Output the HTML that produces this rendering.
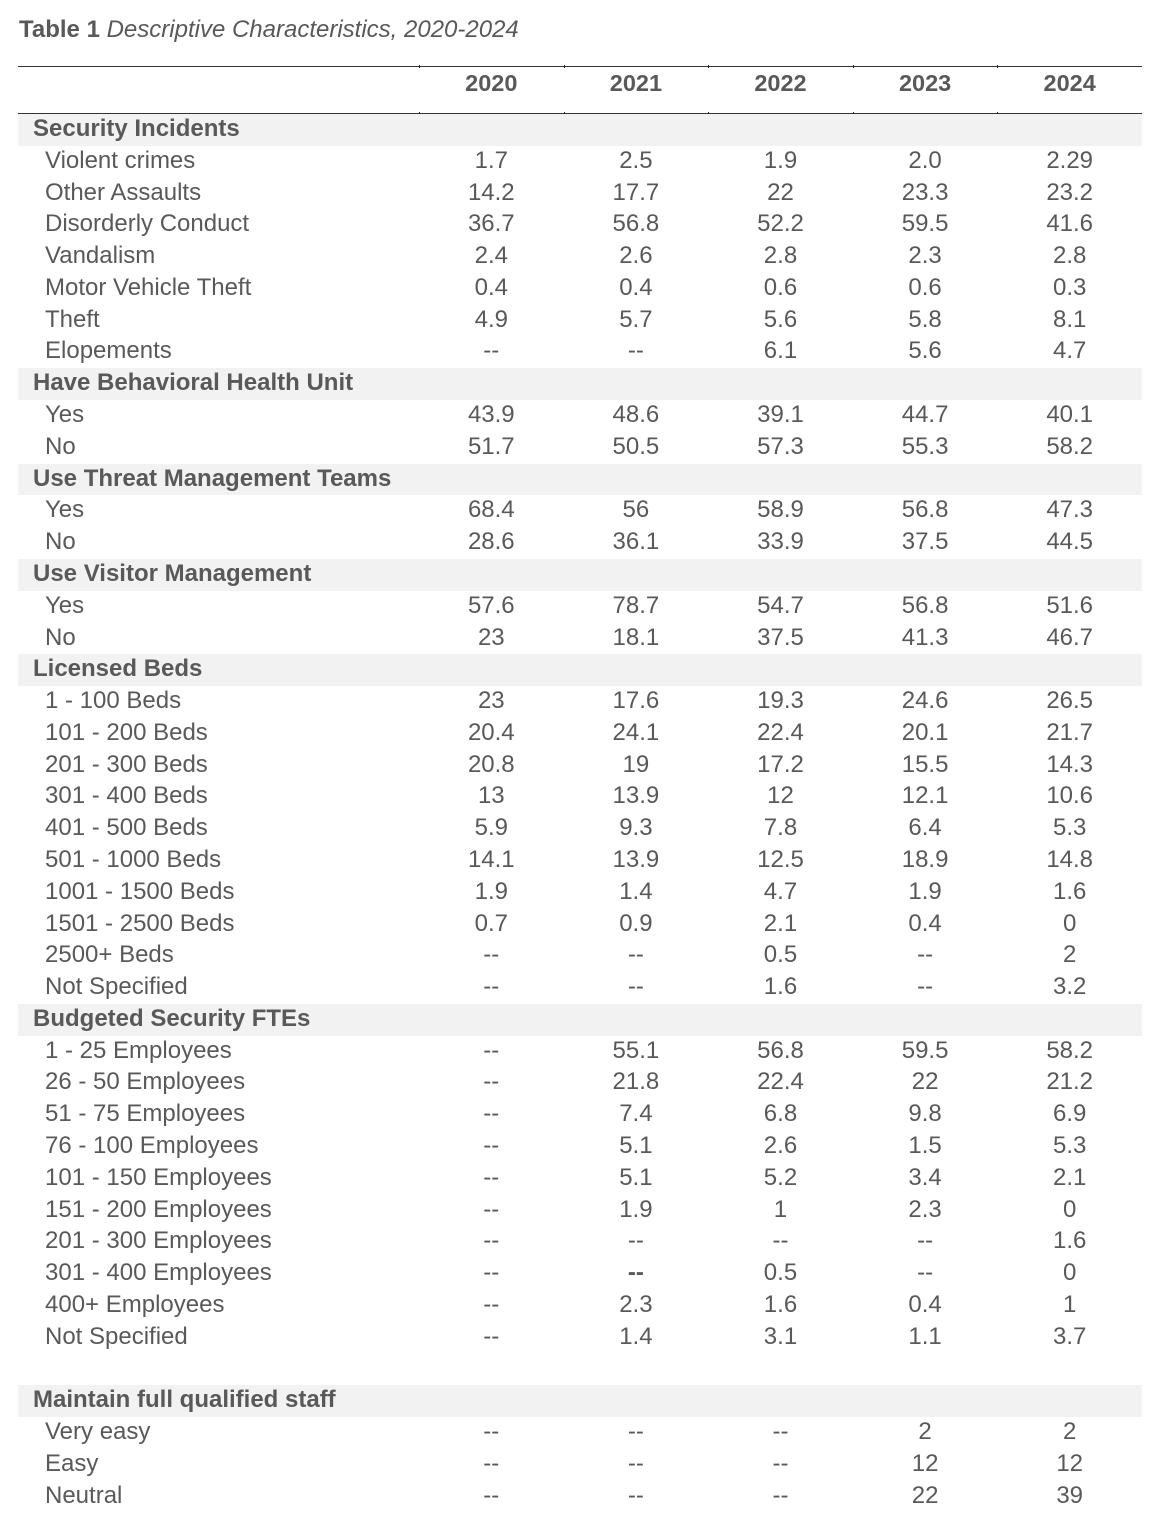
<!DOCTYPE html>
<html>
<head>
<meta charset="utf-8">
<style>
  html, body { margin:0; padding:0; background:#fff; }
  body { width:1159px; height:1536px; position:relative; overflow:hidden;
         font-family:"Liberation Sans", Arial, sans-serif; color:#595959; }
  .title { position:absolute; left:19px; top:18px; font-size:24px; line-height:24px; white-space:nowrap; }
  .title b { font-weight:bold; }
  .title i { font-style:italic; }
  .rule { position:absolute; left:18px; width:1124px; height:1.5px; background:#333; }
  .tick { position:absolute; width:1px; height:3px; background:#222; }
  .hdr { position:absolute; top:70.5px; left:18px; width:1124px; display:flex; font-weight:bold; font-size:23.5px; line-height:24px; }
  .hdr .lab { width:401px; }
  .hdr .v { width:144.6px; text-align:center; }
  .tbl { position:absolute; left:18px; top:114px; width:1124px; }
  .r { height:31.79px; display:flex; font-size:24px; line-height:31.79px; white-space:nowrap; }
  .r > div { position:relative; top:-1px; }
  .r .lab { width:374px; padding-left:27px; }
  .r .v { width:144.6px; text-align:center; }
  .s { background:#f2f2f2; font-weight:bold; font-size:24px; }
  .s .lab { padding-left:15px; width:1000px; }
</style>
</head>
<body>
<div class="title"><b>Table 1</b> <i>Descriptive Characteristics, 2020-2024</i></div>

<div class="rule" style="top:65.5px;"></div>
<div class="rule" style="top:112.8px;"></div>
<div class="tick" style="left:419px;top:65px;"></div>
<div class="tick" style="left:564px;top:65px;"></div>
<div class="tick" style="left:708px;top:65px;"></div>
<div class="tick" style="left:853px;top:65px;"></div>
<div class="tick" style="left:997px;top:65px;"></div>
<div class="tick" style="left:419px;top:112px;"></div>
<div class="tick" style="left:564px;top:112px;"></div>
<div class="tick" style="left:708px;top:112px;"></div>
<div class="tick" style="left:853px;top:112px;"></div>
<div class="tick" style="left:997px;top:112px;"></div>

<div class="hdr">
  <div class="lab"></div>
  <div class="v">2020</div><div class="v">2021</div><div class="v">2022</div><div class="v">2023</div><div class="v">2024</div>
</div>

<div class="tbl">
  <div class="r s"><div class="lab">Security Incidents</div></div>
  <div class="r"><div class="lab">Violent crimes</div><div class="v">1.7</div><div class="v">2.5</div><div class="v">1.9</div><div class="v">2.0</div><div class="v">2.29</div></div>
  <div class="r"><div class="lab">Other Assaults</div><div class="v">14.2</div><div class="v">17.7</div><div class="v">22</div><div class="v">23.3</div><div class="v">23.2</div></div>
  <div class="r"><div class="lab">Disorderly Conduct</div><div class="v">36.7</div><div class="v">56.8</div><div class="v">52.2</div><div class="v">59.5</div><div class="v">41.6</div></div>
  <div class="r"><div class="lab">Vandalism</div><div class="v">2.4</div><div class="v">2.6</div><div class="v">2.8</div><div class="v">2.3</div><div class="v">2.8</div></div>
  <div class="r"><div class="lab">Motor Vehicle Theft</div><div class="v">0.4</div><div class="v">0.4</div><div class="v">0.6</div><div class="v">0.6</div><div class="v">0.3</div></div>
  <div class="r"><div class="lab">Theft</div><div class="v">4.9</div><div class="v">5.7</div><div class="v">5.6</div><div class="v">5.8</div><div class="v">8.1</div></div>
  <div class="r"><div class="lab">Elopements</div><div class="v">--</div><div class="v">--</div><div class="v">6.1</div><div class="v">5.6</div><div class="v">4.7</div></div>

  <div class="r s"><div class="lab">Have Behavioral Health Unit</div></div>
  <div class="r"><div class="lab">Yes</div><div class="v">43.9</div><div class="v">48.6</div><div class="v">39.1</div><div class="v">44.7</div><div class="v">40.1</div></div>
  <div class="r"><div class="lab">No</div><div class="v">51.7</div><div class="v">50.5</div><div class="v">57.3</div><div class="v">55.3</div><div class="v">58.2</div></div>

  <div class="r s"><div class="lab">Use Threat Management Teams</div></div>
  <div class="r"><div class="lab">Yes</div><div class="v">68.4</div><div class="v">56</div><div class="v">58.9</div><div class="v">56.8</div><div class="v">47.3</div></div>
  <div class="r"><div class="lab">No</div><div class="v">28.6</div><div class="v">36.1</div><div class="v">33.9</div><div class="v">37.5</div><div class="v">44.5</div></div>

  <div class="r s"><div class="lab">Use Visitor Management</div></div>
  <div class="r"><div class="lab">Yes</div><div class="v">57.6</div><div class="v">78.7</div><div class="v">54.7</div><div class="v">56.8</div><div class="v">51.6</div></div>
  <div class="r"><div class="lab">No</div><div class="v">23</div><div class="v">18.1</div><div class="v">37.5</div><div class="v">41.3</div><div class="v">46.7</div></div>

  <div class="r s"><div class="lab">Licensed Beds</div></div>
  <div class="r"><div class="lab">1 - 100 Beds</div><div class="v">23</div><div class="v">17.6</div><div class="v">19.3</div><div class="v">24.6</div><div class="v">26.5</div></div>
  <div class="r"><div class="lab">101 - 200 Beds</div><div class="v">20.4</div><div class="v">24.1</div><div class="v">22.4</div><div class="v">20.1</div><div class="v">21.7</div></div>
  <div class="r"><div class="lab">201 - 300 Beds</div><div class="v">20.8</div><div class="v">19</div><div class="v">17.2</div><div class="v">15.5</div><div class="v">14.3</div></div>
  <div class="r"><div class="lab">301 - 400 Beds</div><div class="v">13</div><div class="v">13.9</div><div class="v">12</div><div class="v">12.1</div><div class="v">10.6</div></div>
  <div class="r"><div class="lab">401 - 500 Beds</div><div class="v">5.9</div><div class="v">9.3</div><div class="v">7.8</div><div class="v">6.4</div><div class="v">5.3</div></div>
  <div class="r"><div class="lab">501 - 1000 Beds</div><div class="v">14.1</div><div class="v">13.9</div><div class="v">12.5</div><div class="v">18.9</div><div class="v">14.8</div></div>
  <div class="r"><div class="lab">1001 - 1500 Beds</div><div class="v">1.9</div><div class="v">1.4</div><div class="v">4.7</div><div class="v">1.9</div><div class="v">1.6</div></div>
  <div class="r"><div class="lab">1501 - 2500 Beds</div><div class="v">0.7</div><div class="v">0.9</div><div class="v">2.1</div><div class="v">0.4</div><div class="v">0</div></div>
  <div class="r"><div class="lab">2500+ Beds</div><div class="v">--</div><div class="v">--</div><div class="v">0.5</div><div class="v">--</div><div class="v">2</div></div>
  <div class="r"><div class="lab">Not Specified</div><div class="v">--</div><div class="v">--</div><div class="v">1.6</div><div class="v">--</div><div class="v">3.2</div></div>

  <div class="r s"><div class="lab">Budgeted Security FTEs</div></div>
  <div class="r"><div class="lab">1 - 25 Employees</div><div class="v">--</div><div class="v">55.1</div><div class="v">56.8</div><div class="v">59.5</div><div class="v">58.2</div></div>
  <div class="r"><div class="lab">26 - 50 Employees</div><div class="v">--</div><div class="v">21.8</div><div class="v">22.4</div><div class="v">22</div><div class="v">21.2</div></div>
  <div class="r"><div class="lab">51 - 75 Employees</div><div class="v">--</div><div class="v">7.4</div><div class="v">6.8</div><div class="v">9.8</div><div class="v">6.9</div></div>
  <div class="r"><div class="lab">76 - 100 Employees</div><div class="v">--</div><div class="v">5.1</div><div class="v">2.6</div><div class="v">1.5</div><div class="v">5.3</div></div>
  <div class="r"><div class="lab">101 - 150 Employees</div><div class="v">--</div><div class="v">5.1</div><div class="v">5.2</div><div class="v">3.4</div><div class="v">2.1</div></div>
  <div class="r"><div class="lab">151 - 200 Employees</div><div class="v">--</div><div class="v">1.9</div><div class="v">1</div><div class="v">2.3</div><div class="v">0</div></div>
  <div class="r"><div class="lab">201 - 300 Employees</div><div class="v">--</div><div class="v">--</div><div class="v">--</div><div class="v">--</div><div class="v">1.6</div></div>
  <div class="r"><div class="lab">301 - 400 Employees</div><div class="v">--</div><div class="v" style="font-weight:bold;">--</div><div class="v">0.5</div><div class="v">--</div><div class="v">0</div></div>
  <div class="r"><div class="lab">400+ Employees</div><div class="v">--</div><div class="v">2.3</div><div class="v">1.6</div><div class="v">0.4</div><div class="v">1</div></div>
  <div class="r"><div class="lab">Not Specified</div><div class="v">--</div><div class="v">1.4</div><div class="v">3.1</div><div class="v">1.1</div><div class="v">3.7</div></div>

  <div class="r"></div>

  <div class="r s"><div class="lab">Maintain full qualified staff</div></div>
  <div class="r"><div class="lab">Very easy</div><div class="v">--</div><div class="v">--</div><div class="v">--</div><div class="v">2</div><div class="v">2</div></div>
  <div class="r"><div class="lab">Easy</div><div class="v">--</div><div class="v">--</div><div class="v">--</div><div class="v">12</div><div class="v">12</div></div>
  <div class="r"><div class="lab">Neutral</div><div class="v">--</div><div class="v">--</div><div class="v">--</div><div class="v">22</div><div class="v">39</div></div>
</div>
</body>
</html>
